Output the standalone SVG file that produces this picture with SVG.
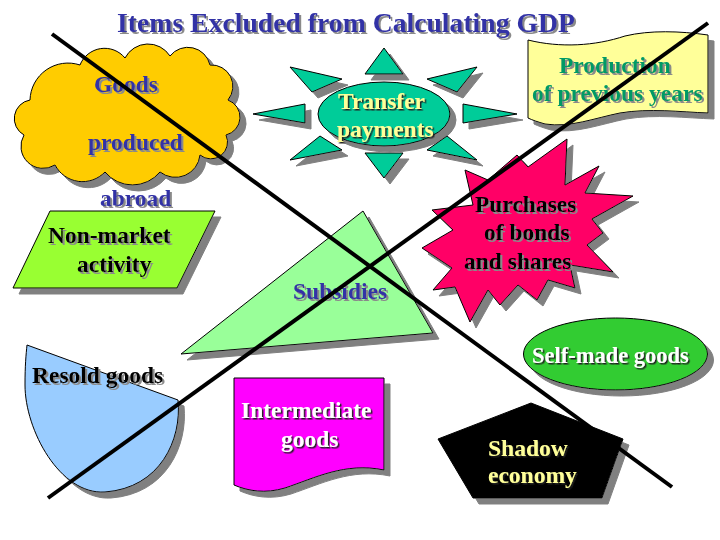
<svg xmlns="http://www.w3.org/2000/svg" width="720" height="540" viewBox="0 0 720 540">
<defs>
<filter id="sh" filterUnits="userSpaceOnUse" x="0" y="0" width="720" height="540">
<feDropShadow dx="6" dy="6" stdDeviation="0" flood-color="#808080" flood-opacity="1"/>
</filter>
<filter id="tg" filterUnits="userSpaceOnUse" x="0" y="0" width="720" height="540">
<feDropShadow dx="2" dy="2" stdDeviation="0" flood-color="#8a8a8a" flood-opacity="1"/>
</filter>
<filter id="td" filterUnits="userSpaceOnUse" x="0" y="0" width="720" height="540">
<feDropShadow dx="1.5" dy="1.5" stdDeviation="0" flood-color="#222222" flood-opacity="1"/>
</filter>
</defs>
<style>
text{font-family:"Liberation Serif","Times New Roman",serif;font-weight:bold;font-size:23.5px}
.s{stroke:#000;stroke-width:1;filter:url(#sh)}
.blue{fill:#3333a6;filter:url(#tg)}
.blk{fill:#000;filter:url(#tg)}
.wht{fill:#fff;filter:url(#td)}
.yel{fill:#ffff99;filter:url(#td)}
.grn{fill:#009966;filter:url(#tg)}
.ln{stroke:#000;stroke-width:4;fill:none}
</style>
<rect width="720" height="540" fill="#fff"/>
<text x="346" y="32" text-anchor="middle" class="blue" style="font-size:27.7px">Items Excluded from Calculating GDP</text>

<g id="goods-abroad">
<path class="s" fill="#ffcc00" d="M30,100 A38,38 0 0 1 80,65 A26.4,26.4 0 0 1 125,58 A26,26 0 0 1 170,56 A22.7,22.7 0 0 1 210,65 A21.4,21.4 0 0 1 228,100 A18.3,18.3 0 0 1 226,135 A16.8,16.8 0 0 1 200,155 A24.7,24.7 0 0 1 160,172 A35.6,35.6 0 0 1 105,172 A31,31 0 0 1 55,165 A22.2,22.2 0 0 1 24,135 A18.8,18.8 0 0 1 30,100 Z"/>
<text x="94" y="92" class="blue">Goods</text>
<text x="88" y="150" class="blue">produced</text>
<text x="100" y="206" class="blue">abroad</text>
</g>

<g id="transfer-payments">
<g class="s" fill="#00cc99">
<polygon points="384,48 365,74 403,74"/>
<polygon points="384,178 365,153 403,153"/>
<polygon points="253,114 305,104 305,123"/>
<polygon points="517,114 463,104 463,123"/>
<polygon points="290,67 342,79 312,92"/>
<polygon points="477,67 427,79 457,92"/>
<polygon points="290,160 320,136 342,150"/>
<polygon points="477,160 447,136 427,150"/>
<ellipse cx="384" cy="114" rx="66" ry="32"/>
</g>
<text x="338" y="109" class="yel">Transfer</text>
<text x="337" y="137" class="yel">payments</text>
</g>

<g id="production-previous-years">
<path class="s" fill="#ffff99" d="M528,40 C560,48 595,46 625,36 C650,30 680,31 708,35 L708,113 C680,112 650,108 620,113 C595,118 570,128 545,124 C538,122 532,120 528,118 Z"/>
<text x="559" y="73" class="grn">Production</text>
<text x="532" y="101" class="grn">of previous years</text>
</g>

<g id="non-market">
<polygon class="s" fill="#99ff33" points="50,211 215,211 177,288 13,288"/>
<text x="48" y="243" class="blk">Non-market</text>
<text x="77" y="272" class="blk">activity</text>
</g>

<g id="subsidies">
<polygon class="s" fill="#99ff99" points="363,211 433,333 181,354"/>
<text x="293" y="299" class="blue">Subsidies</text>
</g>

<g id="purchases">
<polygon class="s" fill="#ff0066" points="567,139 565,185 599,166 585,193 633,196 592,219 603,233 587,245 613,272 570,265 575,288 548,280 537,300 518,285 500,305 488,290 470,322 455,287 433,290 452,268 422,248 453,230 432,210 473,205 465,170 488,180 517,155 528,167"/>
<text x="475" y="212" class="blk">Purchases</text>
<text x="484" y="240" class="blk">of bonds</text>
<text x="464" y="269" class="blk">and shares</text>
</g>

<g id="self-made">
<ellipse class="s" fill="#33cc33" cx="615.5" cy="354" rx="92" ry="36"/>
<text x="532" y="363" class="wht" style="font-size:22.5px">Self-made goods</text>
</g>

<g id="resold">
<path class="s" fill="#99ccff" d="M27,345 L178,400 C182,440 160,488 105,492 C60,495 25,430 25,385 C25,365 26,355 27,345 Z"/>
<text x="32" y="383" class="blk">Resold goods</text>
</g>

<g id="intermediate">
<path class="s" fill="#ff00ff" d="M234,378 H384 V470 C345,462 315,478 285,488 C265,494 248,491 234,485 Z"/>
<text x="241" y="418" class="wht">Intermediate</text>
<text x="281" y="447" class="wht">goods</text>
</g>

<g id="shadow-economy">
<polygon class="s" fill="#000" points="531,403 623,439 602,498 473,498 438,439"/>
<text x="488" y="456" class="yel">Shadow</text>
<text x="488" y="483" class="yel">economy</text>
</g>

<g id="connectors">
<line class="ln" x1="52" y1="34" x2="672" y2="487"/>
<line class="ln" x1="48" y1="498" x2="708" y2="23"/>
</g>
</svg>
